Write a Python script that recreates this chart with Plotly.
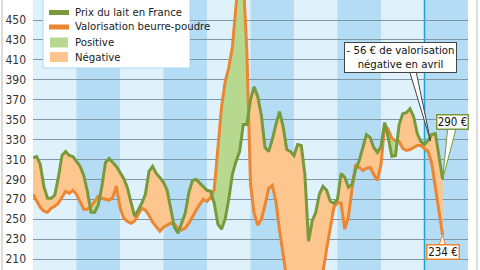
import plotly.graph_objects as go

# ---------------- data (monthly, index 0 = first month shown) ----------------
prix_lait = [312, 313, 305, 283, 271, 271, 274, 292, 314, 318,
             314, 313, 308, 303, 294, 278, 257, 257, 264, 283,
             307, 311, 307, 303, 297, 291, 282, 268, 253, 259,
             266, 275, 298, 303, 296, 292, 287, 279, 262, 242,
             236, 246, 256, 277, 289, 290, 286, 282, 279, 278,
             266, 245, 240, 250, 270, 295, 308, 318, 345, 345,
             370, 383, 373, 354, 322, 318, 330, 345, 358, 343,
             320, 318, 314, 325, 324, 295, 228, 248, 257, 275,
             283, 279, 268, 266, 270, 296, 292, 282, 285, 300,
             309, 322, 335, 332, 322, 317, 323, 347, 332, 313,
             314, 345, 356, 357, 361, 353, 336, 328, 325, 329,
             335, 336, 315, 290]

valorisation = [275, 268, 262, 258, 257, 261, 263, 266, 272, 278,
                276, 279, 275, 267, 260, 260, 263, 268, 273, 271,
                270, 269, 272, 283, 262, 251, 248, 246, 248, 255,
                261, 259, 254, 247, 243, 238, 242, 244, 246, 245,
                241, 239, 241, 246, 253, 259, 265, 270, 268, 272,
                280, 325, 362, 388, 402, 423, 458, 505, 493, 418,
                285, 256, 244, 250, 264, 281, 284, 268, 239, 212,
                190, 182, 178, 176, 176, 178, 180, 183, 188, 192,
                197, 220, 240, 262, 267, 266, 240, 252, 280, 305,
                302, 299, 301, 302, 295, 289, 305, 345, 340, 331,
                329, 328, 321, 319, 320, 322, 324, 324, 321, 318,
                306, 282, 254, 234]

mois = list(range(len(prix_lait)))
y_ticks = list(range(210, 471, 20))
n_annees = 10
legend_labels = ["Prix du lait en France", "Valorisation beurre-poudre", "Positive", "Négative"]
callout_text = "- 56 € de valorisation<br>négative en avril"
label_lait = "290 €"
label_valo = "234 €"

# ---------------- styles ----------------
FONT = "DejaVu Sans Condensed, Liberation Sans Narrow, Roboto, sans-serif"
band_light = "#dff1fb"
band_dark = "#b4dcf4"
grid_c = "#7f96a4"
green_line = "#789a3c"
orange_line = "#ec8633"
green_fill = "#b6d98f"
orange_fill = "#fcc68e"
vline_c = "#1aa3d9"

W, H = 480, 270
L, R = 33, 12
XR = [0, 120]
YR = [199, 470.1]


def px2x(px):
    return XR[0] + (px - L) / (W - L - R) * (XR[1] - XR[0])


def py2y(py):
    return YR[1] - py / H * (YR[1] - YR[0])


def ppx(px):
    return (px - L) / (W - L - R)


def ppy(py):
    return 1 - py / H


# ---------------- split fills at crossings ----------------
xs, gs, os_ = [mois[0]], [prix_lait[0]], [valorisation[0]]
for i in range(1, len(mois)):
    d0 = valorisation[i - 1] - prix_lait[i - 1]
    d1 = valorisation[i] - prix_lait[i]
    if d0 * d1 < 0:
        t = d0 / (d0 - d1)
        xc = mois[i - 1] + t * (mois[i] - mois[i - 1])
        yc = prix_lait[i - 1] + t * (prix_lait[i] - prix_lait[i - 1])
        xs.append(xc); gs.append(yc); os_.append(yc)
    xs.append(mois[i]); gs.append(prix_lait[i]); os_.append(valorisation[i])
hi = [max(a, b) for a, b in zip(gs, os_)]
lo = [min(a, b) for a, b in zip(gs, os_)]

fig = go.Figure()
common = dict(mode="lines", line=dict(width=0), hoverinfo="skip", showlegend=False)
fig.add_trace(go.Scatter(x=xs, y=gs, **common))
fig.add_trace(go.Scatter(x=xs, y=hi, fill="tonexty", fillcolor=green_fill, **common))
fig.add_trace(go.Scatter(x=xs, y=gs, **common))
fig.add_trace(go.Scatter(x=xs, y=lo, fill="tonexty", fillcolor=orange_fill, **common))
fig.add_trace(go.Scatter(x=mois, y=valorisation, mode="lines",
                         line=dict(color=orange_line, width=3), showlegend=False))
fig.add_trace(go.Scatter(x=mois, y=prix_lait, mode="lines",
                         line=dict(color=green_line, width=3), showlegend=False))

shapes = []
for j in range(n_annees):
    if j % 2 == 1:
        shapes.append(dict(type="rect", xref="x", yref="paper", x0=12 * j, x1=12 * j + 12,
                           y0=0, y1=1, fillcolor=band_dark, line=dict(width=0), layer="below"))
shapes.append(dict(type="line", xref="x", yref="paper", x0=108, x1=108, y0=0, y1=1,
                   line=dict(color=vline_c, width=1.5), layer="between"))
# frame lines
for px in (2, 477):
    shapes.append(dict(type="line", xref="paper", yref="paper", x0=ppx(px), x1=ppx(px),
                       y0=0, y1=1, line=dict(color="#c4c4c4", width=1.2)))
# legend box
shapes.append(dict(type="rect", xref="paper", yref="paper", x0=ppx(43), x1=ppx(190),
                   y0=ppy(68), y1=ppy(-3), fillcolor="white",
                   line=dict(color="#a9d5ef", width=1)))
shapes.append(dict(type="line", xref="paper", yref="paper", x0=ppx(49), x1=ppx(69),
                   y0=ppy(12.5), y1=ppy(12.5), line=dict(color=green_line, width=5)))
shapes.append(dict(type="line", xref="paper", yref="paper", x0=ppx(49), x1=ppx(69),
                   y0=ppy(27), y1=ppy(27), line=dict(color=orange_line, width=5)))
shapes.append(dict(type="rect", xref="paper", yref="paper", x0=ppx(50), x1=ppx(68),
                   y0=ppy(47.5), y1=ppy(37.5), fillcolor=green_fill, line=dict(width=0)))
shapes.append(dict(type="rect", xref="paper", yref="paper", x0=ppx(50), x1=ppx(68),
                   y0=ppy(62), y1=ppy(52), fillcolor=orange_fill, line=dict(width=0)))


# callout wedges
def wedge(b1, b2, tip, color):
    return dict(type="path", xref="x", yref="y",
                path=f"M {b1[0]},{b1[1]} L {tip[0]},{tip[1]} L {b2[0]},{b2[1]} Z",
                fillcolor="white", line=dict(color=color, width=1), layer="above")


shapes.append(wedge((px2x(408), py2y(66)), (px2x(415), py2y(66)),
                    (px2x(430.5), py2y(141)), "#444444"))
shapes.append(wedge((px2x(448), py2y(125)), (px2x(457), py2y(125)),
                    (mois[-1], prix_lait[-1]), green_line))
shapes.append(wedge((px2x(438), py2y(248)), (px2x(446), py2y(248)),
                    (mois[-1], valorisation[-1]), orange_line))

annotations = []
for lab, py in zip(legend_labels, (12.5, 27, 42.5, 57)):
    annotations.append(dict(text=lab, xref="paper", yref="paper", x=ppx(73), y=ppy(py),
                            xanchor="left", yanchor="middle", showarrow=False,
                            font=dict(family=FONT, size=11.3, color="#222222")))
annotations.append(dict(text=callout_text, xref="paper", yref="paper",
                        x=ppx(400.5), y=ppy(57), xanchor="center", yanchor="middle",
                        showarrow=False, bgcolor="white", bordercolor="#444444",
                        borderwidth=1, borderpad=1, width=109, height=27,
                        font=dict(family=FONT, size=11.3, color="#111111")))
annotations.append(dict(text=label_lait, xref="paper", yref="paper",
                        x=ppx(452.5), y=ppy(121.7), xanchor="center", yanchor="middle",
                        showarrow=False, bgcolor="white", bordercolor=green_line,
                        borderwidth=1.5, borderpad=0, width=30, height=13,
                        font=dict(family=FONT, size=11.5, color="#111111")))
annotations.append(dict(text=label_valo, xref="paper", yref="paper",
                        x=ppx(442.7), y=ppy(251.7), xanchor="center", yanchor="middle",
                        showarrow=False, bgcolor="white", bordercolor=orange_line,
                        borderwidth=1.5, borderpad=0, width=31, height=13,
                        font=dict(family=FONT, size=11.5, color="#111111")))

fig.update_layout(
    width=W, height=H, margin=dict(l=L, r=R, t=0, b=0),
    paper_bgcolor="white", plot_bgcolor=band_light, showlegend=False,
    shapes=shapes, annotations=annotations,
    xaxis=dict(range=XR, visible=False),
    yaxis=dict(range=YR, tickvals=y_ticks, showgrid=True, gridcolor=grid_c, gridwidth=1,
               zeroline=False, showline=False, ticks="", ticklabelstandoff=6,
               tickfont=dict(family=FONT, size=12, color="#333333")),
)

fig.write_html("out.html")
